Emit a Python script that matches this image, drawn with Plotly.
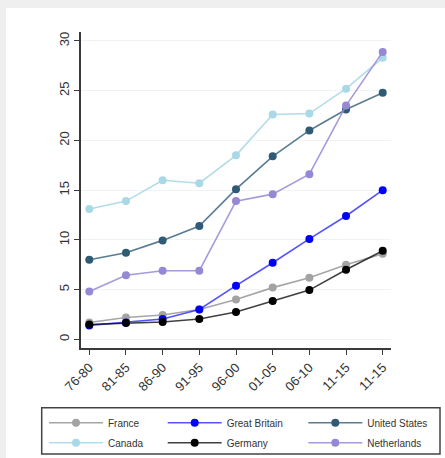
import plotly.graph_objects as go

periods = ["76-80", "81-85", "86-90", "91-95", "96-00", "01-05", "06-10", "11-15", "11-15"]
france = [1.7, 2.2, 2.45, 3.0, 4.0, 5.2, 6.2, 7.5, 8.6]
great_britain = [1.4, 1.7, 2.05, 3.0, 5.4, 7.7, 10.1, 12.4, 15.0]
united_states = [8.0, 8.7, 9.95, 11.4, 15.1, 18.4, 21.0, 23.1, 24.8]
canada = [13.1, 13.9, 16.0, 15.7, 18.5, 22.6, 22.7, 25.2, 28.3]
germany = [1.5, 1.65, 1.75, 2.05, 2.75, 3.85, 4.95, 7.0, 8.9]
netherlands = [4.8, 6.45, 6.9, 6.9, 13.9, 14.6, 16.6, 23.5, 28.9]
y_ticks = [0, 5, 10, 15, 20, 25, 30]

# (name, values, marker colour, line colour)
series = [
    ("France", france, "#a3a3a3", "rgba(150,150,150,0.85)"),
    ("Great Britain", great_britain, "#0000ff", "rgba(40,40,255,0.8)"),
    ("United States", united_states, "#2f5b75", "rgba(47,91,117,0.8)"),
    ("Canada", canada, "#a9d8e6", "rgba(169,216,230,0.9)"),
    ("Germany", germany, "#000000", "rgba(0,0,0,0.75)"),
    ("Netherlands", netherlands, "#9788d6", "rgba(151,136,214,0.85)"),
]

W, H = 445, 458
ml, mr, mt, mb = 81, 54, 32, 110
pw, ph = W - ml - mr, H - mt - mb

def px_x(p):
    return (p - ml) / pw

def px_y(p):
    return (H - mb - p) / ph

def legend_at(left_px, top_px):
    return dict(
        orientation="v", xref="container", yref="container",
        x=left_px / W, y=1 - top_px / H, xanchor="left", yanchor="top",
        bgcolor="rgba(0,0,0,0)", borderwidth=0,
        font=dict(size=10, color="#333333"),
        itemwidth=54, tracegroupgap=0,
    )

col_left = [44, 162.7, 303.3]
row_top = [408.3, 428.3]
legend_names = ["legend", "legend2", "legend3", "legend4", "legend5", "legend6"]
legend_layout = {}
for i, lname in enumerate(legend_names):
    legend_layout[lname] = legend_at(col_left[i % 3], row_top[i // 3])

x_idx = list(range(len(periods)))
fig = go.Figure()
for i, (name, vals, mcol, lcol) in enumerate(series):
    fig.add_trace(go.Scatter(
        x=x_idx, y=vals, name=name, mode="lines+markers",
        line=dict(color=lcol, width=1.6),
        marker=dict(color=mcol, size=8),
        legend=legend_names[i],
    ))

fig.update_layout(
    width=W, height=H,
    margin=dict(l=ml, r=mr, t=mt, b=mb, pad=0, autoexpand=False),
    paper_bgcolor="white", plot_bgcolor="white",
    font=dict(family="Liberation Sans, Arial, sans-serif", color="#333333", size=12),
    showlegend=True,
    xaxis=dict(
        range=[-0.226, 8.226], tickmode="array", tickvals=x_idx, ticktext=periods,
        tickangle=-45, showgrid=False, zeroline=False,
        showline=True, linecolor="#3a3a3a", linewidth=1.5,
        ticks="outside", ticklen=5, tickcolor="#3a3a3a", tickwidth=1.2,
        tickfont=dict(size=13, color="#333333"),
    ),
    yaxis=dict(
        range=[-0.87, 30.9], tickmode="array", tickvals=y_ticks,
        tickangle=-90, showgrid=True, gridcolor="#eef4f5", gridwidth=1,
        zeroline=False, showline=True, linecolor="#3a3a3a", linewidth=1.5,
        ticks="outside", ticklen=5, tickcolor="#3a3a3a", tickwidth=1.2,
        tickfont=dict(size=13, color="#333333"),
    ),
    shapes=[
        dict(type="rect", xref="paper", yref="paper", x0=px_x(0), x1=px_x(6),
             y0=px_y(H), y1=px_y(0), fillcolor="#efefef", line=dict(width=0), layer="below"),
        dict(type="rect", xref="paper", yref="paper", x0=px_x(0), x1=px_x(W),
             y0=px_y(8), y1=px_y(0), fillcolor="#efefef", line=dict(width=0), layer="below"),
        dict(type="rect", xref="paper", yref="paper", x0=px_x(41.7), x1=px_x(440),
             y0=px_y(454), y1=px_y(407.7), fillcolor="rgba(0,0,0,0)",
             line=dict(color="#444444", width=1.5)),
    ],
    **legend_layout,
)

fig.write_html("out.html", config={"displayModeBar": False},
               post_script="document.body.style.margin='0';")
